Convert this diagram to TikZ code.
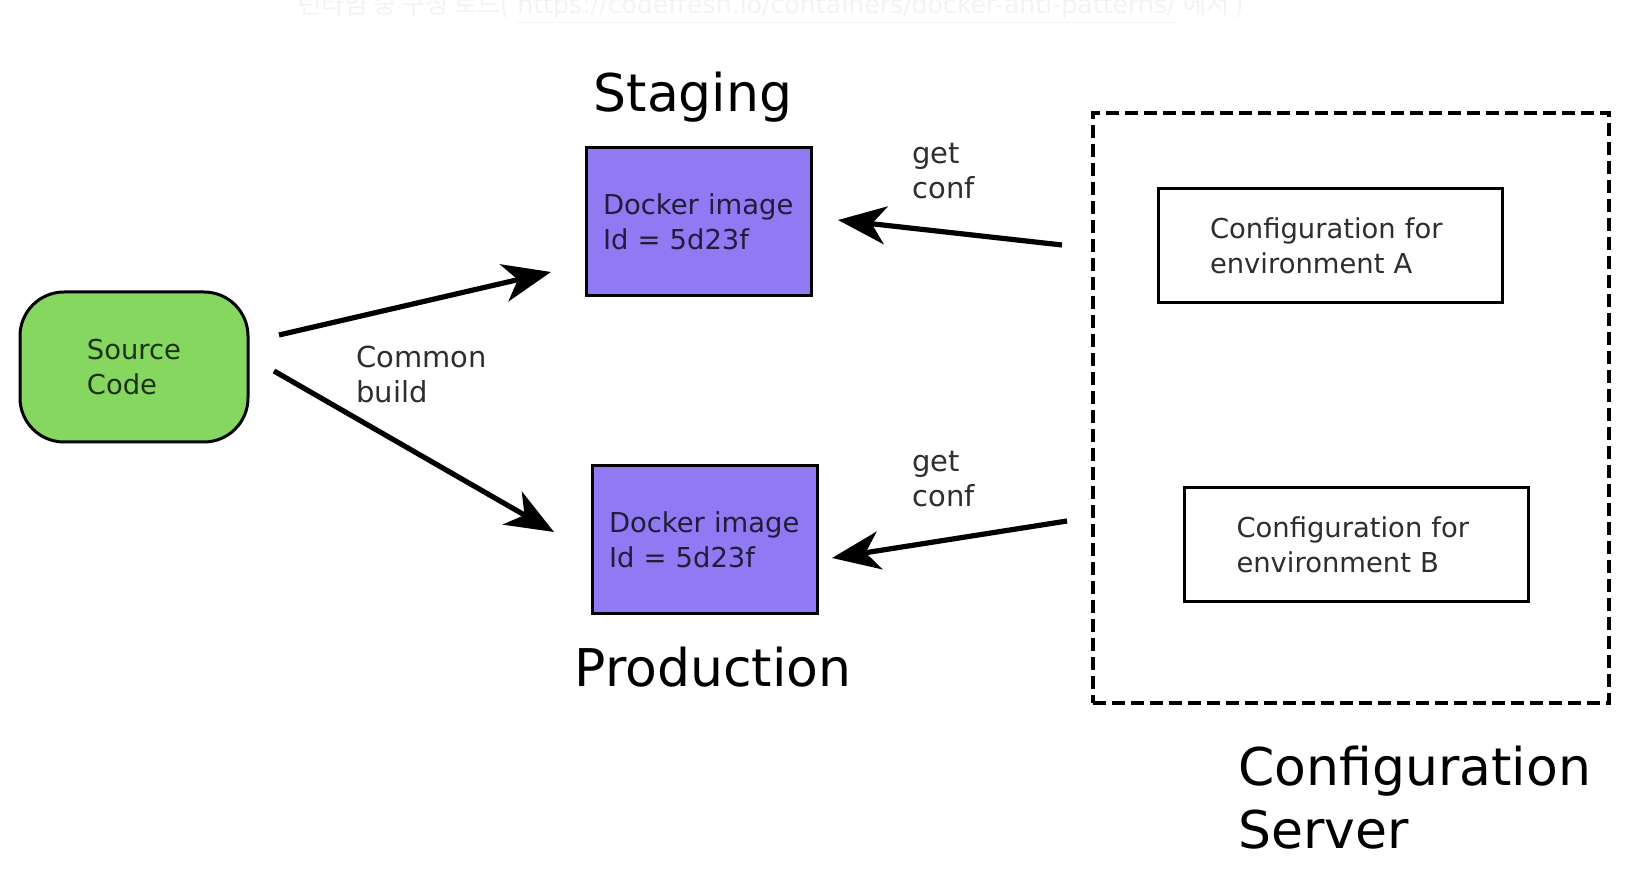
\documentclass[tikz,border=0pt]{standalone}
\usepackage{fontspec}
\setmainfont{DejaVu Sans}
\newfontfamily\krfont{Noto Sans CJK KR}
\usetikzlibrary{arrows.meta}
\definecolor{srcgreen}{HTML}{86D760}
\definecolor{imgpurple}{HTML}{9079F2}
\definecolor{faint}{HTML}{F3F3F3}
\definecolor{txtgray}{HTML}{2E2E2E}
\definecolor{boxtext}{HTML}{1E1E3A}
\definecolor{srctext}{HTML}{1E3212}
\begin{document}
\begin{tikzpicture}[x=0.5pt,y=-0.5pt,
  boxfont/.style={font=\fontsize{13.7pt}{17.5pt}\selectfont},
  lblfont/.style={font=\fontsize{14.5pt}{17.8pt}\selectfont},
  bigfont/.style={font=\fontsize{26pt}{31.5pt}\selectfont},
  imgbox/.style={boxfont, draw=black, line width=1.5pt, fill=imgpurple, text=boxtext,
    align=left, text width=95.5pt, inner xsep=8.5pt, inner ysep=0pt,
    minimum height=74pt},
  srcbox/.style={boxfont, draw=black, line width=1.5pt, fill=srcgreen, text=srctext,
    align=left, rounded corners=22pt, minimum width=114pt, minimum height=75pt},
  confbox/.style={boxfont, draw=black, line width=1.5pt, fill=white, text=txtgray,
    align=left, text width=120pt, inner xsep=26pt, inner ysep=0pt,
    minimum height=57pt},
  serverbox/.style={draw=black, line width=2pt, dash pattern=on 6.5pt off 3pt,
    minimum width=258pt, minimum height=295pt, inner sep=0pt},
  lbl/.style={lblfont, text=txtgray, align=left, inner sep=0pt, anchor=base west},
  biglbl/.style={bigfont, text=black, inner sep=0pt},
  flow/.style={line width=2.6pt, -{Stealth[length=24pt,width=19pt,inset=7pt]}}
]
\useasboundingbox (0,0) rectangle (1632,870);

% faint caption cut at the top
\node[anchor=base west, inner sep=0pt, text=faint, font=\fontsize{12.6pt}{15pt}\selectfont]
  (note) at (298,14) {{\krfont 런타임 중 구성 로드(} \underline{https://codefresh.io/containers/docker-anti-patterns/} {\krfont 에서 )}};

% nodes
\node[srcbox] (src) at (134,367) {Source\\Code};
\node[imgbox] (stg) at (698.5,222) {Docker image\\Id = 5d23f};
\node[imgbox] (prd) at (704.5,540) {Docker image\\Id = 5d23f};
\node[serverbox] (srv) at (1351,408) {};
\node[confbox] (cfa) at (1330,246) {Configuration for\\environment A};
\node[confbox] (cfb) at (1356.5,544.5) {Configuration for\\environment B};

% titles
\node[biglbl, anchor=base] (stglbl) at (693,112) {Staging};
\node[biglbl, anchor=base] (prdlbl) at (713,686) {Production};
\node[biglbl, anchor=base west, align=left] (srvlbl) at (1238,848) {Configuration\\Server};

% labels (base anchor = baseline of last line)
\node[lbl] (common) at (356,403) {Common\\build};
\node[lbl] (geta) at (912,199) {get\\conf};
\node[lbl] (getb) at (912,507) {get\\conf};

% arrow end points
\coordinate (a1s) at (279,335);
\coordinate (a1e) at (551,272);
\coordinate (a2s) at (274,371);
\coordinate (a2e) at (554,532);
\coordinate (a3s) at (1062,245);
\coordinate (a3e) at (838,220);
\coordinate (a4s) at (1067,521);
\coordinate (a4e) at (832,558);

\draw[flow] (a1s) -- (a1e);
\draw[flow] (a2s) -- (a2e);
\draw[flow] (a3s) -- (a3e);
\draw[flow] (a4s) -- (a4e);
\end{tikzpicture}
\end{document}
